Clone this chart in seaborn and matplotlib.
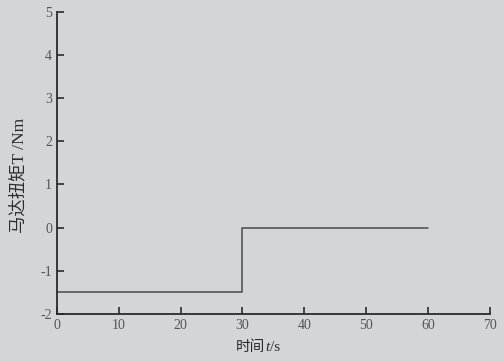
import matplotlib
matplotlib.use("Agg")
import matplotlib.pyplot as plt
from matplotlib.offsetbox import TextArea, HPacker, AnchoredOffsetbox
import seaborn as sns
import pandas as pd

# step torque profile
time_s = [0, 30, 60]
torque_nm = [-1.5, 0, 0]
x_ticks = [0, 10, 20, 30, 40, 50, 60, 70]
y_ticks = [-2, -1, 0, 1, 2, 3, 4, 5]

df = pd.DataFrame({"t": time_s, "T": torque_nm})

sns.set_style("ticks")
plt.rcParams['font.family'] = ['Liberation Serif', 'Noto Sans CJK SC']
plt.rcParams['axes.unicode_minus'] = False

bg = '#d4d5d7'
ink = '#2b2b2b'

fig = plt.figure(figsize=(5.04, 3.62), dpi=100, facecolor=bg)
ax = fig.add_axes([0.113, 0.133, 0.859, 0.834], facecolor=bg)

sns.lineplot(data=df, x="t", y="T", ax=ax, drawstyle='steps-post',
             color='#4a4a4a', lw=1.1, estimator=None)

ax.set_xlim(0, 70)
ax.set_ylim(-2, 5)
ax.set_xticks(x_ticks)
ax.set_yticks(y_ticks)
ax.tick_params(direction='in', length=5, width=1.2, colors=ink, labelsize=10)
for lbl in ax.get_xticklabels() + ax.get_yticklabels():
    lbl.set_color('#555555')
for s in ['left', 'bottom']:
    ax.spines[s].set_color(ink)
    ax.spines[s].set_linewidth(1.3)
sns.despine(ax=ax)

# x label: 时间 + italic t + /s
ax.set_xlabel('')
parts = [
    TextArea('时间', textprops=dict(family='Noto Sans CJK SC', size=10.5, color=ink)),
    TextArea('t', textprops=dict(family='Liberation Serif', style='italic', size=11, color=ink)),
    TextArea('/s', textprops=dict(family='Liberation Serif', size=11, color=ink)),
]
box = HPacker(children=parts, pad=0, sep=0, align='baseline')
anchored = AnchoredOffsetbox(loc='upper center', child=box, frameon=False,
                             bbox_to_anchor=(0.464, -0.085), bbox_transform=ax.transAxes,
                             borderpad=0, pad=0)
ax.add_artist(anchored)

ax.set_ylabel('马达扭矩T /Nm', fontsize=12.5, color=ink)
ax.yaxis.set_label_coords(-0.069, 0.46)

fig.savefig('out.png', dpi=100, facecolor=bg)
